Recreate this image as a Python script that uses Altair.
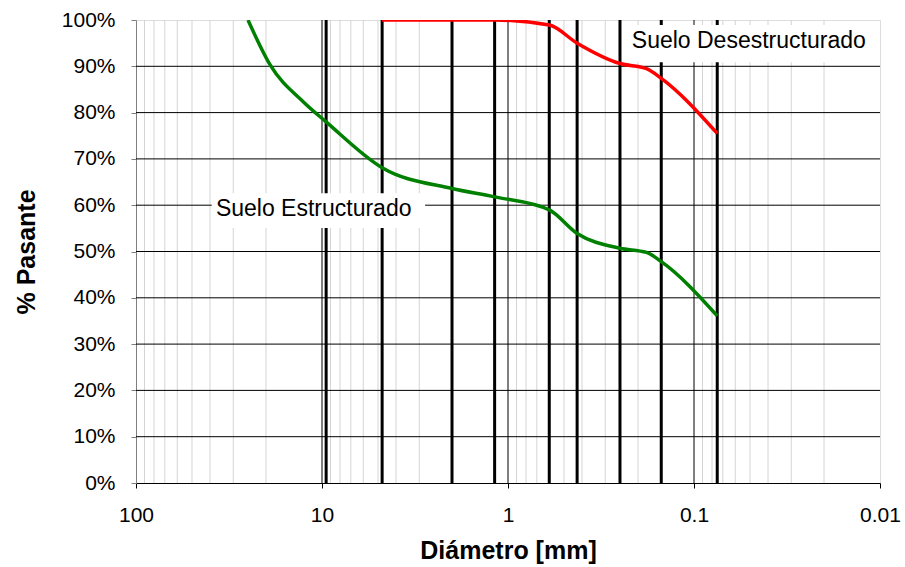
import altair as alt
import pandas as pd

# ---------------- data ----------------
diam_struct = [25, 19, 12.5, 9.5, 4.75, 2.0, 1.18, 0.6, 0.425, 0.25, 0.18, 0.15, 0.075]
pass_struct = [100, 90.3, 82.2, 78.0, 68.1, 63.6, 61.8, 59.0, 53.9, 50.7, 49.8, 47.8, 36.1]

diam_destr = [4.75, 2.0, 1.18, 0.6, 0.425, 0.25, 0.18, 0.15, 0.075]
pass_destr = [100, 100, 100, 98.9, 95.0, 90.6, 89.5, 87.4, 75.5]

sieves = [9.5, 4.75, 2.0, 1.18, 0.6, 0.425, 0.25, 0.15, 0.075]
major_x = [10, 1, 0.1]
minor_x = [m * 10.0 ** k for k in (-2, -1, 0, 1) for m in range(2, 10)]
y_grid = [10, 20, 30, 40, 50, 60, 70, 80, 90]
x_ticks = [100, 10, 1, 0.1, 0.01]
y_ticks = [0, 10, 20, 30, 40, 50, 60, 70, 80, 90, 100]

label_struct = "Suelo Estructurado"
label_destr = "Suelo Desestructurado"

FONT = "Liberation Sans"

xscale = alt.Scale(type="log", domain=[0.01, 100], reverse=True, nice=False)
yscale = alt.Scale(domain=[0, 100], nice=False, zero=True)

xaxis = alt.Axis(
    values=x_ticks, format="~g", grid=False,
    domainColor="#000000", tickColor="#000000", tickSize=5,
    labelFont=FONT, labelFontSize=21, labelColor="black",
    labelBaseline="middle", labelPadding=27, labelFlush=False,
    title="Diámetro [mm]", titleFont=FONT, titleFontSize=25,
    titleFontWeight="bold", titleColor="black",
    titleY=67, titleBaseline="middle",
)
yaxis = alt.Axis(
    values=y_ticks, labelExpr="datum.value + '%'", grid=False,
    domainColor="#808080", tickColor="#808080", tickSize=5,
    labelFont=FONT, labelFontSize=21, labelColor="black", labelPadding=16,
    title="% Pasante", titleFont=FONT, titleFontSize=25,
    titleFontWeight="bold", titleColor="black",
    titleAngle=270, titleAlign="center", titleBaseline="middle",
    titleX=-110, titleY=231.5,
)

minor_df = pd.DataFrame({"d": minor_x})
major_df = pd.DataFrame({"d": major_x})
sieve_df = pd.DataFrame({"d": sieves})
hgrid_df = pd.DataFrame({"p": y_grid})

curves = pd.concat([
    pd.DataFrame({"d": diam_struct, "p": pass_struct, "s": label_struct}),
    pd.DataFrame({"d": diam_destr, "p": pass_destr, "s": label_destr}),
])

minor = alt.Chart(minor_df).mark_rule(color="#d4d4d4", strokeWidth=1).encode(
    x=alt.X("d:Q", scale=xscale, axis=xaxis)
)
hgrid = alt.Chart(hgrid_df).mark_rule(color="#000000", strokeWidth=1).encode(
    y=alt.Y("p:Q", scale=yscale, axis=yaxis)
)
major = alt.Chart(major_df).mark_rule(color="#000000", strokeWidth=1).encode(
    x=alt.X("d:Q", scale=xscale)
)
thick = alt.Chart(sieve_df).mark_rule(color="#000000", strokeWidth=3).encode(
    x=alt.X("d:Q", scale=xscale)
)

box1 = alt.Chart().mark_rect(color="white").encode(
    x=alt.X(datum=39.2, type="quantitative", scale=xscale),
    x2=alt.X2(datum=2.79),
    y=alt.Y(datum=62.6, type="quantitative", scale=yscale),
    y2=alt.Y2(datum=55.1),
)
box2 = alt.Chart().mark_rect(color="white").encode(
    x=alt.X(datum=0.232, type="quantitative", scale=xscale),
    x2=alt.X2(datum=0.01),
    y=alt.Y(datum=98.9, type="quantitative", scale=yscale),
    y2=alt.Y2(datum=90.9),
)
text1 = alt.Chart().mark_text(
    align="left", baseline="alphabetic", font=FONT, fontSize=23, color="black"
).encode(
    x=alt.X(datum=37.2, type="quantitative", scale=xscale),
    y=alt.Y(datum=57.7, type="quantitative", scale=yscale),
    text=alt.value(label_struct),
)
text2 = alt.Chart().mark_text(
    align="left", baseline="alphabetic", font=FONT, fontSize=23, color="black"
).encode(
    x=alt.X(datum=0.216, type="quantitative", scale=xscale),
    y=alt.Y(datum=93.9, type="quantitative", scale=yscale),
    text=alt.value(label_destr),
)

lines = alt.Chart(curves).mark_line(
    interpolate="monotone", strokeWidth=3.5, clip=True
).encode(
    x=alt.X("d:Q", scale=xscale),
    y=alt.Y("p:Q", scale=yscale),
    color=alt.Color(
        "s:N",
        scale=alt.Scale(domain=[label_struct, label_destr], range=["#008000", "#ff0000"]),
        legend=None,
    ),
    order=alt.Order("d:Q", sort="descending"),
)

chart = alt.layer(
    minor, hgrid, major, thick, box1, box2, text1, text2, lines
).properties(
    width=744, height=463,
    autosize=alt.AutoSizeParams(type="none"),
    padding={"left": 136, "top": 20, "right": 25, "bottom": 84},
).configure_view(
    stroke="#8c8c8c", strokeWidth=1
).configure(background="white")

chart.save("out.html", embed_options={"renderer": "svg", "actions": False})
